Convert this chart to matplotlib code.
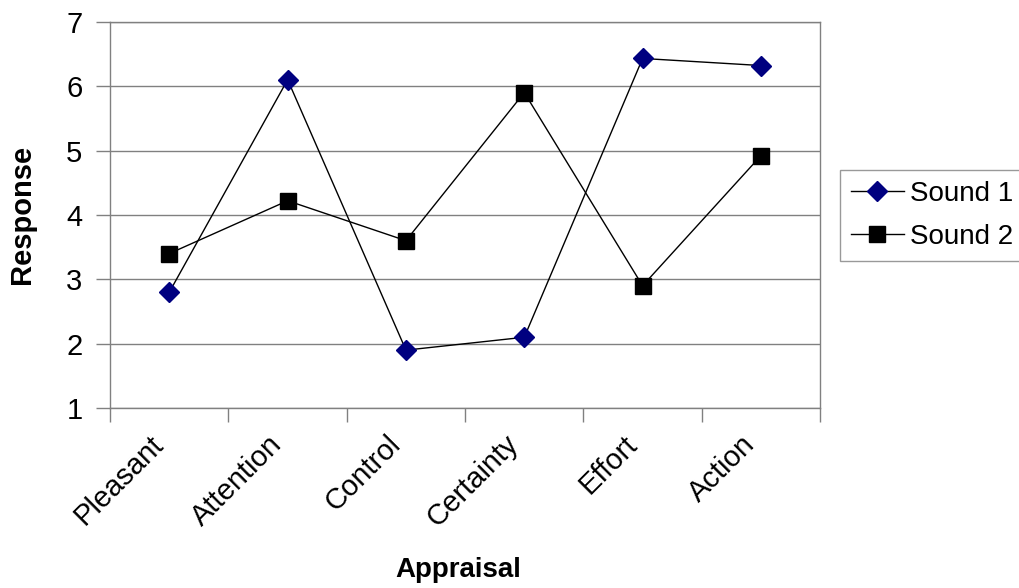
import numpy as np
import matplotlib.pyplot as plt

plt.rcParams['font.family'] = ['Liberation Sans', 'DejaVu Sans']

categories = ['Pleasant', 'Attention', 'Control', 'Certainty', 'Effort', 'Action']
sound1 = [2.8, 6.1, 1.9, 2.1, 6.43, 6.32]
sound2 = [3.4, 4.22, 3.6, 5.9, 2.9, 4.92]

x = np.arange(len(categories))

fig = plt.figure(figsize=(10.2, 5.88), dpi=100)
ax = fig.add_axes([0.108, 0.306, 0.696, 0.657])

ax.plot(x, sound1, color='black', lw=1, marker='D', ms=10,
        mfc='#000080', mec='#000080', label='Sound 1', zorder=3)
ax.plot(x, sound2, color='black', lw=1, marker='s', ms=11,
        mfc='black', mec='black', label='Sound 2', zorder=3)

ax.set_xlim(-0.5, len(categories) - 0.5)
ax.set_ylim(1, 7)
ax.set_yticks(range(1, 8))
ax.yaxis.grid(True, color='#808080', lw=1)
ax.set_axisbelow(True)

# category boundary ticks, labels in the middle
ax.set_xticks(np.arange(-0.5, len(categories)), labels=[])
ax.set_xticks(x, labels=categories, minor=True)
ax.tick_params(axis='x', which='major', length=10, width=1, color='#808080', direction='out')
ax.tick_params(axis='x', which='minor', length=0, pad=30, labelsize=21)
for lab in ax.get_xticklabels(minor=True):
    lab.set_rotation(45)
    lab.set_ha('right')
    lab.set_va('bottom')
    lab.set_rotation_mode('anchor')
ax.tick_params(axis='y', length=10, width=1, color='#808080', labelsize=21, pad=10)

for s in ['left', 'right', 'bottom', 'top']:
    ax.spines[s].set_color('#808080')
    ax.spines[s].set_linewidth(1)

ax.set_ylabel('Response', fontsize=21, fontweight='bold')
ax.yaxis.set_label_coords(-0.104, 0.5)
ax.set_xlabel('Appraisal', fontsize=20, fontweight='bold')
ax.xaxis.set_label_coords(0.49, -0.385)

leg = ax.legend(loc='upper left', bbox_to_anchor=(0.8235, 0.711),
                bbox_transform=fig.transFigure, fontsize=20, frameon=True,
                fancybox=False, borderpad=0.4, handlelength=1.9,
                handletextpad=0.22, labelspacing=0.6, borderaxespad=0)
leg.get_frame().set_edgecolor('#808080')
leg.get_frame().set_linewidth(1)

fig.savefig('out.png', dpi=100)
